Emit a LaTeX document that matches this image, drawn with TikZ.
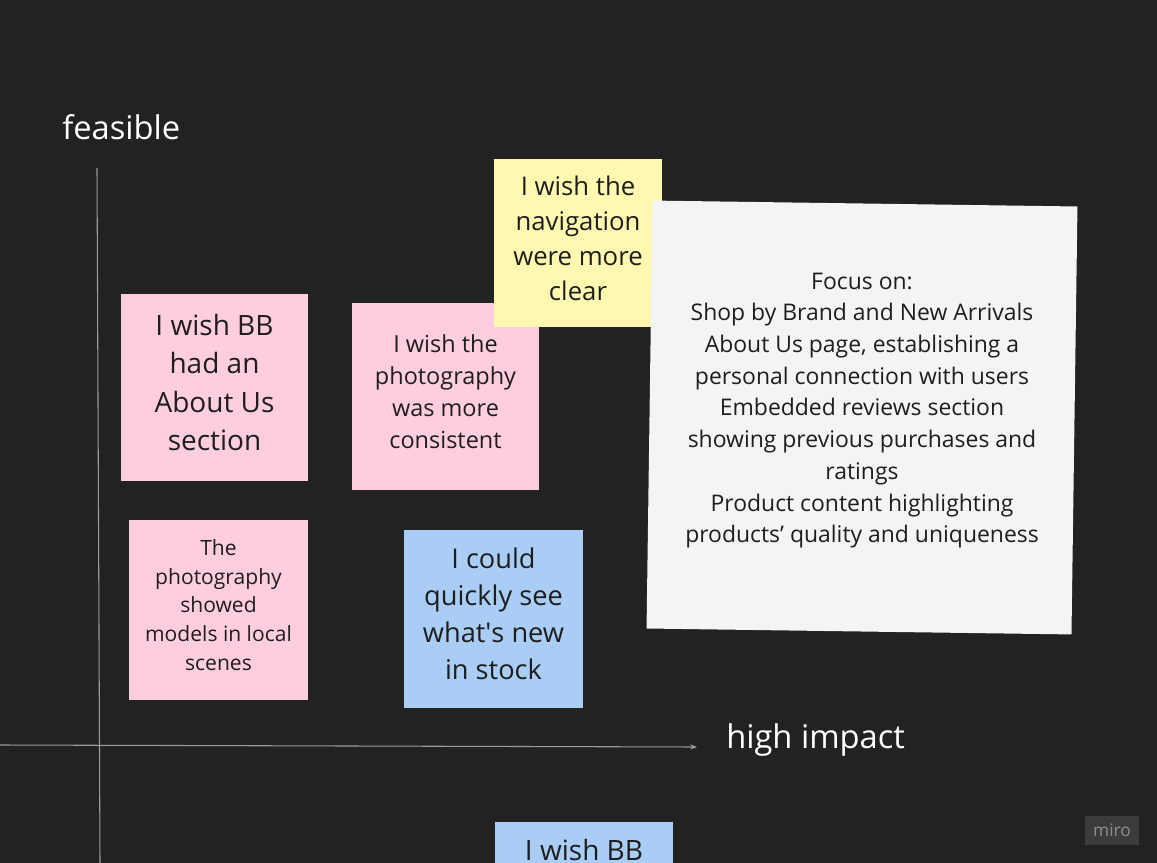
\documentclass[tikz,border=0pt]{standalone}
\usepackage{fontspec}
\setmainfont{Open Sans}
\usetikzlibrary{arrows.meta}
\definecolor{board}{HTML}{222222}
\definecolor{axisgrey}{HTML}{9B9B9B}
\definecolor{pinknote}{HTML}{FECDDF}
\definecolor{yellownote}{HTML}{FFF8B0}
\definecolor{bluenote}{HTML}{A9CDF5}
\definecolor{greynote}{HTML}{F3F4F6}
\definecolor{ink}{HTML}{1E1E1E}
\definecolor{logobox}{HTML}{3C3C3C}
\definecolor{logotext}{HTML}{8E8E8E}
\tikzstyle{sticky}=[rectangle, inner sep=0pt]
\tikzstyle{notetext}=[inner sep=0pt, text=ink, align=center, yshift=3.75pt]
\tikzstyle{caption}=[text=white, inner sep=0pt, font=\fontsize{24.5}{30}\selectfont]
\newcommand{\sz}[2]{\fontsize{#1}{#2}\selectfont}
\newcommand{\sticky}{\node[sticky]}

\begin{document}
\begin{tikzpicture}[x=0.75pt, y=-0.75pt]
\useasboundingbox (0,0) rectangle (1157,863);
\clip (0,0) rectangle (1157,863);
\fill[board] (0,0) rectangle (1157,863);
% axes
\coordinate (ytop) at (97,168);
\coordinate (ybot) at (100,863);
\coordinate (xleft) at (0,745);
\coordinate (xright) at (697,747);
\draw[axisgrey, line width=0.8pt] (ytop) -- (ybot);
\draw[axisgrey, line width=0.8pt, -{Stealth[length=5pt,width=4pt]}] (xleft) -- (xright);
\node[caption, anchor=west] (feasible) at (62,127) {feasible};
\node[caption, anchor=west] (impact) at (726,740) {high impact};
% notes
\sticky[fill=pinknote, minimum width=140.25pt, minimum height=140.25pt] (aboutus) at (214.5,387.5) {};
\node[notetext, font=\sz{21}{28.9}] (aboutustext) at (aboutus) {I wish BB\\had an\\About Us\\section};
\sticky[fill=pinknote, minimum width=140.25pt, minimum height=140.25pt] (photo) at (445.5,396.5) {};
\node[notetext, font=\sz{17.6}{24}] (phototext) at (photo) {I wish the\\photography\\was more\\consistent};
\sticky[fill=yellownote, minimum width=126pt, minimum height=126pt] (navigation) at (578,243) {};
\node[notetext, font=\sz{19.3}{26.25}] (navigationtext) at (navigation) {I wish the\\navigation\\were more\\clear};
\sticky[fill=greynote, minimum width=318.75pt, minimum height=321pt, rotate=-0.8] (focus) at (862,417.5) {};
\node[notetext, font=\sz{17.2}{23.8}, yshift=1.5pt] (focustext) at (focus) {Focus on:\\Shop by Brand and New Arrivals\\About Us page, establishing a\\personal connection with users\\Embedded reviews section\\showing previous purchases and\\ratings\\Product content highlighting\\products’ quality and uniqueness};
\sticky[fill=pinknote, minimum width=134.25pt, minimum height=135pt] (models) at (218.5,610) {};
\node[notetext, font=\sz{15.8}{21.45}] (modelstext) at (models) {The\\photography\\showed\\models in local\\scenes};
\sticky[fill=bluenote, minimum width=134.25pt, minimum height=133.5pt] (stock) at (493.5,619) {};
\node[notetext, font=\sz{20.4}{27.75}] (stocktext) at (stock) {I could\\quickly see\\what\textquotesingle s new\\in stock};
\sticky[fill=bluenote, minimum width=133.5pt, minimum height=133.5pt, anchor=north] (wishbb) at (584,822) {};
\node[notetext, font=\sz{21}{29}, anchor=base, yshift=-3.75pt] (wishbbtext) at (584,860) {I wish BB};
% logo
\node[fill=logobox, text=logotext, inner sep=0pt, minimum width=40.5pt, minimum height=21.75pt,
  font=\sz{13}{13}] (miro) at (1112,830.5) {miro};
\end{tikzpicture}
\end{document}
